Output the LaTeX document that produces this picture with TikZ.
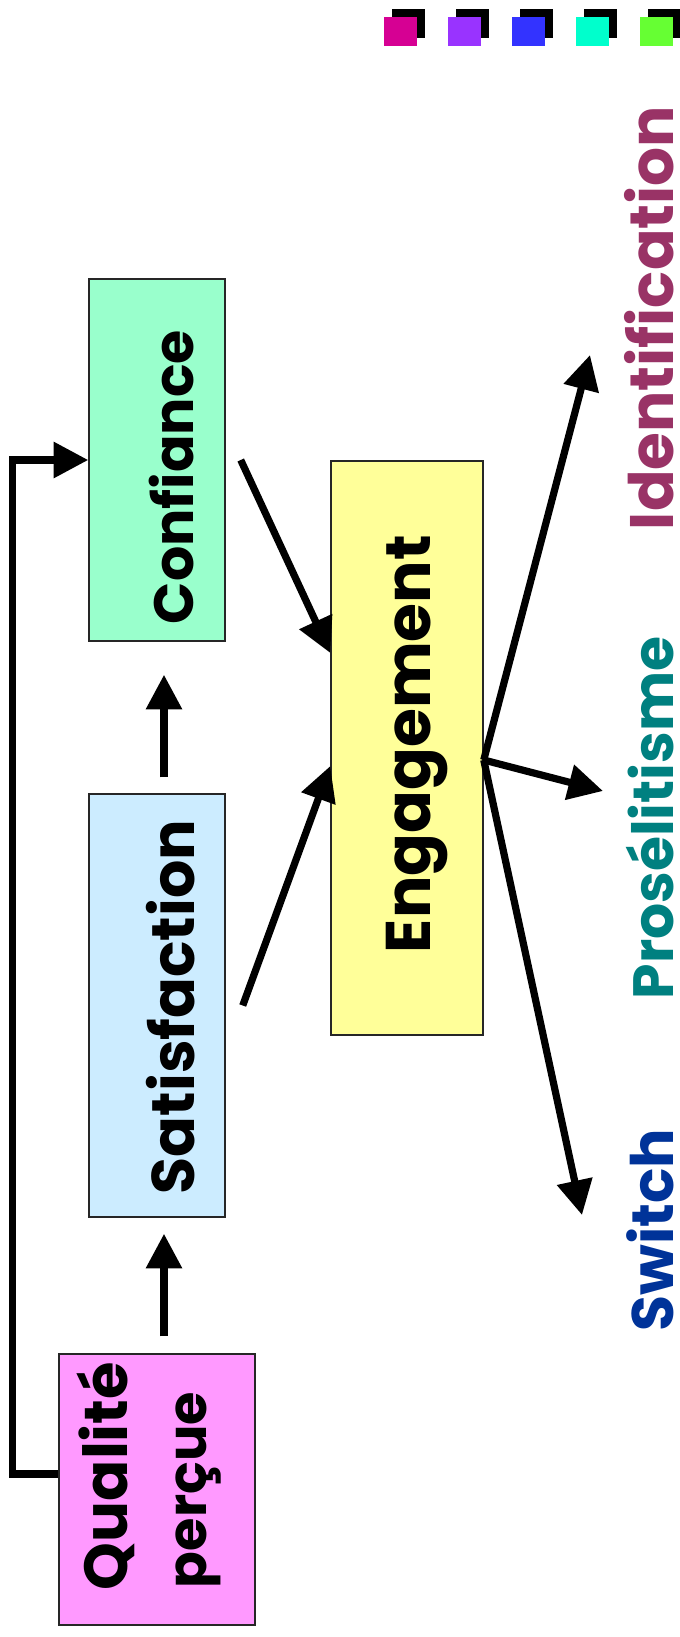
\documentclass[tikz,border=0pt]{standalone}
\usepackage{fontspec}
\setmainfont{Poppins}
\usetikzlibrary{arrows.meta,calc}
\definecolor{mint}{HTML}{99FFCC}
\definecolor{skyb}{HTML}{CCECFF}
\definecolor{pinkb}{HTML}{FF99FF}
\definecolor{yelb}{HTML}{FFFF99}
\definecolor{plum}{HTML}{993366}
\definecolor{tealc}{HTML}{008080}
\definecolor{navyc}{HTML}{003399}
\definecolor{sqA}{HTML}{D60093}
\definecolor{sqB}{HTML}{9933FF}
\definecolor{sqC}{HTML}{3333FF}
\definecolor{sqD}{HTML}{00FFCC}
\definecolor{sqE}{HTML}{66FF33}
\newcommand\fitto[2]{\resizebox{#1}{!}{#2}}
\begin{document}
\begin{tikzpicture}[x=0.75pt,y=-0.75pt,
  box/.style={draw=black!85,line width=1.1pt,rectangle,inner sep=0pt},
  arr/.style={line width=5.4pt,-{Triangle[length=26pt,width=26pt]}},
  lbl/.style={rotate=90,inner sep=0pt,anchor=base,font=\bfseries},
]
\useasboundingbox (0,0) rectangle (679,1637);

% colour chips along the top edge, each with a dark offset shadow
\foreach \c [count=\i from 0] in {sqA,sqB,sqC,sqD,sqE}{
  \fill[black] (392+64*\i,9) rectangle ++(33,29);
  \fill[\c] (384+64*\i,17) rectangle ++(33,29);
}

% boxes
\node[box,fill=mint,minimum width=102pt,minimum height=271.5pt] (conf) at (157,460) {};
\node[box,fill=skyb,minimum width=102pt,minimum height=317.25pt] (sat) at (157,1005.5) {};
\node[box,fill=pinkb,minimum width=147pt,minimum height=203.25pt] (qual) at (157,1489.5) {};
\node[box,fill=yelb,minimum width=114pt,minimum height=430.5pt] (eng) at (407,748) {};

% box captions
\node[lbl] (conft) at (193,477) {\fitto{220.5pt}{Confiance}};
\node[lbl] (satt) at (194,1007) {\fitto{280.5pt}{Satisfaction}};
\node[lbl] (engt) at (430,744) {\fitto{313.5pt}{Engagement}};
\node[lbl] (qualt) at (127,1476) {\fitto{171pt}{Qualité}};
\node[lbl] (perct) at (206,1490) {\fitto{147pt}{perçue}};

% outcome labels
\node[lbl,text=plum] (ident) at (673,318) {\fitto{318pt}{Identification}};
\node[lbl,text=tealc] (pros) at (673,818) {\fitto{272pt}{Prosélitisme}};
\node[lbl,text=navyc] (swit) at (673,1230) {\fitto{152pt}{Switch}};

% arrow ends next to the outcome labels
\coordinate (tI) at (590,355);
\coordinate (tP) at (603,791);
\coordinate (tS) at (582,1215);

% connectors
\draw[arr] ($(qual.north)+(7,-17)$) -- ($(sat.south)+(7,16)$);
\draw[arr] ($(sat.north)+(7,-16)$) -- ($(conf.south)+(7,33)$);
\draw[arr] ($(qual.west)+(0,-15.5)$) -| ($(conf.west)+(-76,0)$) -- (conf.west);
\draw[arr] ($(conf.east)+(15,0)$) -- ($(eng.west)+(0,-95)$);
\draw[arr] ($(sat.east)+(17,0)$) -- ($(eng.west)+(0,18)$);
\draw[arr] ($(eng.east)+(0,12)$) -- (tI);
\draw[arr] ($(eng.east)+(0,12)$) -- (tP);
\draw[arr] ($(eng.east)+(0,12)$) -- (tS);
\end{tikzpicture}
\end{document}
